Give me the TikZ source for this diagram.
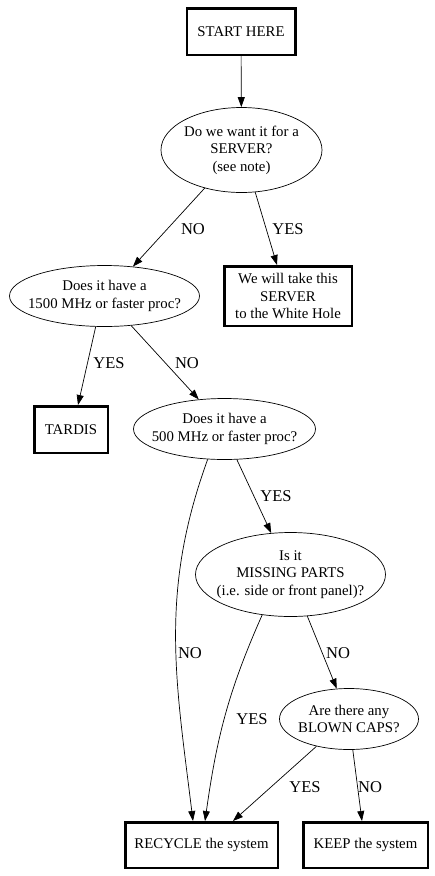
\documentclass[tikz,border=0pt]{standalone}
\usepackage{fontspec}
\setmainfont{Liberation Serif}
\usetikzlibrary{shapes.geometric,arrows.meta}

\begin{document}
\begin{tikzpicture}[x=1pt, y=1pt,
  box/.style={rectangle, draw, line width=2.5pt, align=center, inner sep=0pt, font=\fontsize{14.8}{17.5}\selectfont},
  query/.style={ellipse, draw, line width=0.7pt, align=center, inner ysep=0pt, inner xsep=-12pt, font=\fontsize{14.8}{17.5}\selectfont},
  answer/.style={inner sep=0pt, font=\fontsize{16.5}{20}\selectfont},
  arrow/.style={-{Triangle[length=10pt,width=7pt]}, line width=0.7pt}]

\useasboundingbox (0,0) rectangle (435,-876);

% nodes
\node[box, minimum width=108.5, minimum height=46.5] (start) at (241,-31.5) {START HERE};
\node[query, minimum width=161, minimum height=85] (server) at (241.5,-150) {Do we want it for a\\SERVER?\\(see note)};
\node[box, minimum width=127.5, minimum height=59.5] (whitehole) at (288,-296) {We will take this\\SERVER\\to the White Hole};
\node[query, minimum width=190, minimum height=61] (fast1500) at (104.5,-296) {Does it have a\\1500 MHz or faster proc?};
\node[box, minimum width=73.5, minimum height=46.5] (tardis) at (71,-429.5) {TARDIS};
\node[query, minimum width=182, minimum height=61] (fast500) at (224.5,-429) {Does it have a\\500 MHz or faster proc?};
\node[query, minimum width=190, minimum height=84] (missing) at (290.5,-574.5) {Is it\\MISSING PARTS\\(i.e. side or front panel)?};
\node[query, minimum width=139, minimum height=61] (caps) at (349,-719) {Are there any\\BLOWN CAPS?};
\node[box, minimum width=152.5, minimum height=45.5] (recycle) at (201.5,-845) {RECYCLE the system};
\node[box, minimum width=124.5, minimum height=45.5] (keep) at (365.5,-845) {KEEP the system};

% edges
\draw[arrow] (start) -- (server);
\draw[arrow] (server.226.8) -- (fast1500.46.5);
\draw[arrow] (server.288.6) -- ([xshift=-11pt]whitehole.north);
\draw[arrow] (fast1500.254.7) -- ([xshift=7pt]tardis.north);
\draw[arrow] (fast1500.312.6) -- (fast500.131.6);
\draw[arrow] (fast500.292.9) -- (missing.115.8);
\draw[arrow] (fast500.241.3) to[out=-110, in=97] ([xshift=-8.5pt]recycle.north);
\draw[arrow] (missing.235.5) to[out=-114, in=82] ([xshift=3.5pt]recycle.north);
\draw[arrow] (missing.292.4) -- (caps.112);
\draw[arrow] (caps.220.3) -- ([xshift=31.5pt]recycle.north);
\draw[arrow] (caps.277) -- ([xshift=-3.5pt]keep.north);

% edge labels
\node[answer] (no1) at (193,-229) {NO};
\node[answer] (yes1) at (288,-229) {YES};
\node[answer] (yes2) at (109,-363) {YES};
\node[answer] (no2) at (187,-363) {NO};
\node[answer] (yes3) at (276,-496) {YES};
\node[answer] (no3) at (190,-653) {NO};
\node[answer] (no4) at (338,-653) {NO};
\node[answer] (yes4) at (252,-719) {YES};
\node[answer] (yes5) at (305,-787) {YES};
\node[answer] (no5) at (370,-787) {NO};
\end{tikzpicture}
\end{document}
